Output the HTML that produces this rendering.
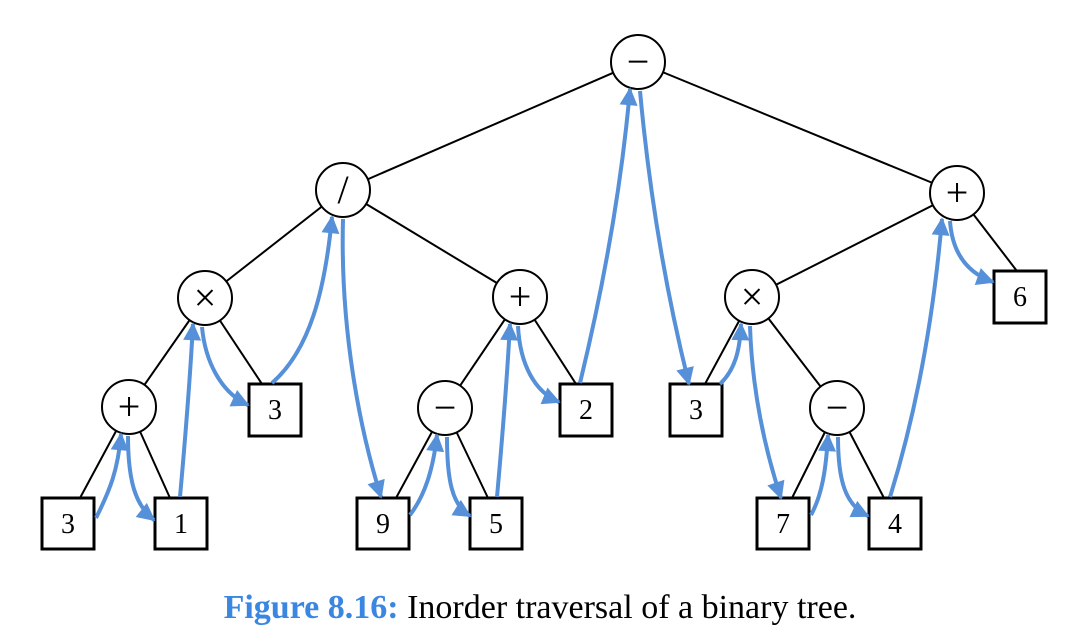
<!DOCTYPE html>
<html><head><meta charset="utf-8"><style>
html,body{margin:0;padding:0;background:#fff;}
svg{display:block;}
</style></head><body>
<svg width="1083" height="642" viewBox="0 0 1083 642" xmlns="http://www.w3.org/2000/svg">
<defs>
<marker id="ah" viewBox="0 0 10 10" refX="9" refY="5" markerWidth="22" markerHeight="18" markerUnits="userSpaceOnUse" orient="auto">
<path d="M0,0 L10,5 L0,10 Z" fill="#5590d8"/>
</marker>
</defs>
<g stroke="#000" stroke-width="2" fill="none">
<line x1="638" y1="62" x2="343" y2="190"/>
<line x1="638" y1="62" x2="957" y2="193"/>
<line x1="343" y1="190" x2="205" y2="298"/>
<line x1="343" y1="190" x2="520" y2="297"/>
<line x1="957" y1="193" x2="752" y2="297"/>
<line x1="957" y1="193" x2="1020" y2="275"/>
<line x1="205" y1="298" x2="262" y2="384"/>
<line x1="205" y1="298" x2="129" y2="407"/>
<line x1="520" y1="297" x2="445" y2="408"/>
<line x1="520" y1="297" x2="576" y2="384"/>
<line x1="752" y1="297" x2="705" y2="384"/>
<line x1="752" y1="297" x2="837" y2="408"/>
<line x1="129" y1="407" x2="80" y2="498"/>
<line x1="129" y1="407" x2="170" y2="498"/>
<line x1="445" y1="408" x2="396" y2="498"/>
<line x1="445" y1="408" x2="488" y2="498"/>
<line x1="837" y1="408" x2="792" y2="498"/>
<line x1="837" y1="408" x2="884" y2="498"/>
</g>
<g stroke="#000" stroke-width="2" fill="#fff">
<circle cx="638" cy="62" r="27"/>
<circle cx="343" cy="190" r="27"/>
<circle cx="957" cy="193" r="27"/>
<circle cx="205" cy="298" r="27"/>
<circle cx="520" cy="297" r="27"/>
<circle cx="752" cy="297" r="27"/>
<circle cx="129" cy="407" r="27"/>
<circle cx="445" cy="408" r="27"/>
<circle cx="837" cy="408" r="27"/>
</g>
<g stroke="#000" stroke-width="3" fill="#fff">
<rect x="42" y="498" width="52" height="51"/>
<rect x="155" y="498" width="52" height="51"/>
<rect x="249" y="384" width="52" height="52"/>
<rect x="357" y="498" width="52" height="51"/>
<rect x="470" y="498" width="52" height="51"/>
<rect x="560" y="384" width="52" height="52"/>
<rect x="670" y="384" width="52" height="52"/>
<rect x="757" y="498" width="52" height="51"/>
<rect x="869" y="498" width="52" height="51"/>
<rect x="994" y="271" width="52" height="52"/>
</g>
<g font-family="'Liberation Serif',serif" font-size="28" text-anchor="middle" fill="#000">
<text x="68" y="533">3</text>
<text x="181" y="533">1</text>
<text x="275" y="419">3</text>
<text x="383" y="533">9</text>
<text x="496" y="533">5</text>
<text x="586" y="419">2</text>
<text x="696" y="419">3</text>
<text x="783" y="533">7</text>
<text x="895" y="533">4</text>
<text x="1020" y="306">6</text>
</g>
<g font-family="'Liberation Serif',serif" font-size="40" text-anchor="middle" fill="#000">
<text x="638" y="75">−</text>
<text x="343" y="203">/</text>
<text x="957" y="206">+</text>
<text x="205" y="311">×</text>
<text x="520" y="310">+</text>
<text x="752" y="310">×</text>
<text x="129" y="420">+</text>
<text x="445" y="421">−</text>
<text x="837" y="421">−</text>
</g>
<g stroke="#5590d8" stroke-width="4" fill="none" marker-end="url(#ah)">
<path d="M96,518 C110,490 118,470 121,434"/>
<path d="M128,436 C128,480 135,505 154,520"/>
<path d="M180,497 C186,430 190,380 193,324"/>
<path d="M202,327 C205,360 220,392 248,405"/>
<path d="M272,383 C310,350 325,290 332,217"/>
<path d="M343,219 C340,330 360,430 381,497"/>
<path d="M410,515 C425,495 433,470 437,435"/>
<path d="M447,437 C447,480 452,505 470,516"/>
<path d="M497,497 C503,430 507,380 510,324"/>
<path d="M518,326 C520,365 535,392 559,402"/>
<path d="M580,383 C605,280 622,180 630,89"/>
<path d="M640,91 C650,200 668,300 689,384"/>
<path d="M720,384 C735,370 740,350 741,324"/>
<path d="M750,326 C752,390 765,450 781,498"/>
<path d="M811,515 C822,495 826,470 828,435"/>
<path d="M838,437 C838,480 845,505 868,516"/>
<path d="M890,497 C920,400 935,300 942,219"/>
<path d="M950,221 C952,250 965,272 993,282"/>
</g>
<text x="540" y="618" font-family="'Liberation Serif',serif" font-size="34" text-anchor="middle"><tspan fill="#3a86e0" font-weight="bold">Figure 8.16:</tspan><tspan fill="#000"> Inorder traversal of a binary tree.</tspan></text>
</svg>
</body></html>
